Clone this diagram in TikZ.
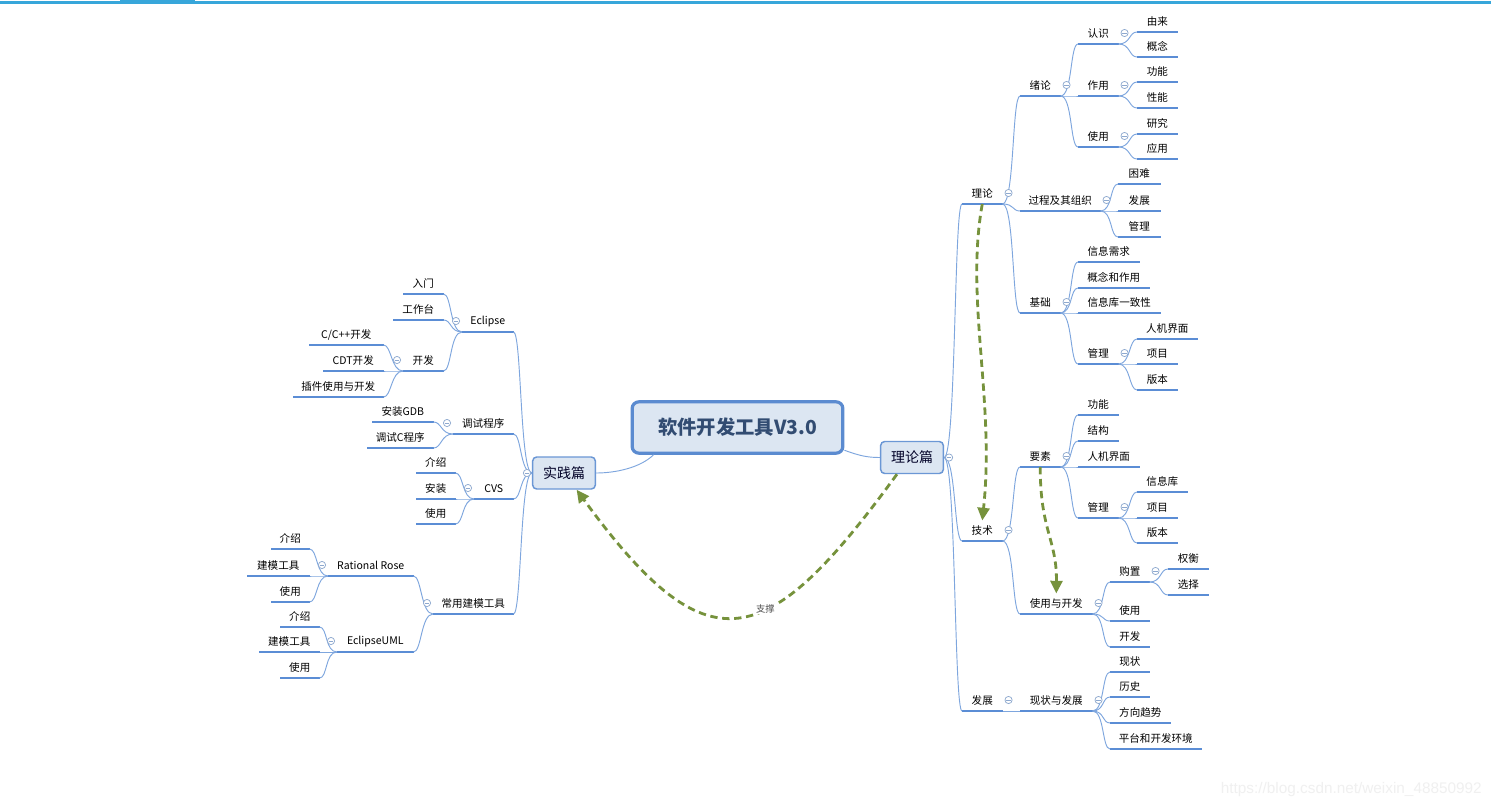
\documentclass[tikz,border=0pt]{standalone}
\usepackage{fontspec}
\setmainfont{Noto Sans CJK SC}
\newfontfamily\wmfont{Liberation Sans}
\usetikzlibrary{arrows.meta,calc}
\definecolor{ulc}{HTML}{5B8DD5}
\definecolor{cnc}{HTML}{7EA6DE}
\definecolor{ccc}{HTML}{8EA9CF}
\definecolor{relc}{HTML}{76923C}
\definecolor{boxf}{HTML}{DCE6F2}
\definecolor{boxd}{HTML}{5B8BD0}
\definecolor{topc}{HTML}{37A6DA}
\tikzset{
  tn/.style={anchor=south west, inner sep=0pt, minimum height=15pt,
    font=\fontsize{7.9}{9}\selectfont, text=black},
  uline/.style={ulc, line width=1.6pt},
  conn/.style={cnc, line width=0.7pt},
  ccirc/.style={ccc, line width=0.55pt, fill=white},
  rel/.style={relc, line width=2.1pt, dash pattern=on 5.5pt off 3.5pt,
    -{Triangle[length=9.5pt,width=9pt]}},
  rootbox/.style={draw=boxd, line width=2.4pt, fill=boxf, rounded corners=5pt,
    minimum width=158pt, minimum height=38.5pt, inner sep=0pt,
    font=\bfseries\fontsize{14.5}{16}\selectfont, text=boxd!55!black},
  mainbox/.style={draw=boxd!90, line width=1.1pt, fill=boxf, rounded corners=3pt,
    minimum width=47pt, minimum height=24pt, inner sep=0pt,
    font=\fontsize{10.5}{12}\selectfont, text=black!85!blue}
}
\newcommand\NN[5]{\node[tn,minimum width={(#3-#2)*0.75pt}] (#1) at (#2,#4) {#5};
  \draw[uline] (#1.south west) -- (#1.south east);}
\newcommand\RC[2]{\draw[conn] (#1.south east) .. controls +(12,0) and +(-8,0) .. (#2.south west);}
\newcommand\LC[2]{\draw[conn] (#1.south west) .. controls +(-12,0) and +(8,0) .. (#2.south east);}
\newcommand\CR[1]{\draw[ccirc] ($(#1.south east)+(6,-11)$) circle (2.7pt);
  \draw[ccc, line width=0.55pt] ($(#1.south east)+(3.6,-11)$) -- ++(4.8,0);}
\newcommand\CL[1]{\draw[ccirc] ($(#1.south west)+(-6,-11)$) circle (2.7pt);
  \draw[ccc, line width=0.55pt] ($(#1.south west)+(-8.4,-11)$) -- ++(4.8,0);}
\begin{document}
\begin{tikzpicture}[x=0.75pt,y=-0.75pt]
\useasboundingbox (0,0) rectangle (1491,807);
\fill[white] (0,0) rectangle (1491,807);
% top bar
\fill[topc] (0,1) rectangle (1491,4);
\fill[topc] (120,0) rectangle (195,4);

% central boxes
\node[rootbox] (root) at (737.5,427.5) {软件开发工具V3.0};
\node[mainbox] (ll) at (912,457.5) {理论篇};
\node[mainbox] (sj) at (564,473) {实践篇};
\draw[conn] (root.-12) .. controls (860,456) and (868,457.5) .. (ll.west);
\draw[conn] (root.198) .. controls (640,468) and (615,473) .. (sj.east);

% right tree nodes
\NN{a}{962}{1002}{204}{理论}
\NN{a1}{1020}{1060}{96}{绪论}
\NN{a11}{1078}{1118}{44}{认识}
\NN{a111}{1137}{1177}{32}{由来}
\NN{a112}{1137}{1177}{57}{概念}
\NN{a12}{1078}{1118}{96}{作用}
\NN{a121}{1137}{1177}{82}{功能}
\NN{a122}{1137}{1177}{108}{性能}
\NN{a13}{1078}{1118}{147}{使用}
\NN{a131}{1137}{1177}{134}{研究}
\NN{a132}{1137}{1177}{159}{应用}
\NN{a2}{1020}{1100}{211}{过程及其组织}
\NN{a21}{1118}{1160}{184}{困难}
\NN{a22}{1118}{1160}{211}{发展}
\NN{a23}{1118}{1160}{237}{管理}
\NN{a3}{1020}{1060}{313}{基础}
\NN{a31}{1078}{1139}{262}{信息需求}
\NN{a32}{1078}{1149}{288}{概念和作用}
\NN{a33}{1078}{1160}{313}{信息库一致性}
\NN{a34}{1078}{1118}{364}{管理}
\NN{a341}{1137}{1197}{339}{人机界面}
\NN{a342}{1137}{1177}{364}{项目}
\NN{a343}{1137}{1177}{390}{版本}
\NN{b}{962}{1002}{541}{技术}
\NN{b1}{1020}{1060}{467}{要素}
\NN{b11}{1078}{1118}{415}{功能}
\NN{b12}{1078}{1118}{441}{结构}
\NN{b13}{1078}{1139}{467}{人机界面}
\NN{b14}{1078}{1118}{518}{管理}
\NN{b141}{1137}{1187}{492}{信息库}
\NN{b142}{1137}{1177}{518}{项目}
\NN{b143}{1137}{1177}{543}{版本}
\NN{b2}{1020}{1092}{614}{使用与开发}
\NN{b21}{1110}{1149}{582}{购置}
\NN{b211}{1168}{1208}{569}{权衡}
\NN{b212}{1168}{1208}{595}{选择}
\NN{b22}{1110}{1149}{621}{使用}
\NN{b23}{1110}{1149}{647}{开发}
\NN{c}{962}{1002}{711}{发展}
\NN{c1}{1020}{1092}{711}{现状与发展}
\NN{c11}{1110}{1149}{672}{现状}
\NN{c12}{1110}{1149}{697}{历史}
\NN{c13}{1110}{1170}{723}{方向趋势}
\NN{c14}{1110}{1201}{749}{平台和开发环境}

% left tree nodes
\NN{p}{462}{513}{332}{Eclipse}
\NN{p1}{403}{443}{294}{入门}
\NN{p2}{393}{443}{320}{工作台}
\NN{p3}{403}{443}{371}{开发}
\NN{p31}{309}{383}{345}{C/C++开发}
\NN{p32}{323}{383}{371}{CDT开发}
\NN{p33}{293}{383}{397}{插件使用与开发}
\NN{q}{453}{513}{434}{调试程序}
\NN{q1}{372}{433}{422}{安装GDB}
\NN{q2}{367}{433}{448}{调试C程序}
\NN{r}{474}{513}{499}{CVS}
\NN{r1}{416}{455}{473}{介绍}
\NN{r2}{416}{455}{499}{安装}
\NN{r3}{416}{455}{524}{使用}
\NN{s}{433}{513}{614}{常用建模工具}
\NN{s1}{328}{413}{576}{Rational Rose}
\NN{s11}{271}{309}{549}{介绍}
\NN{s12}{247}{309}{576}{建模工具}
\NN{s13}{271}{309}{602}{使用}
\NN{s2}{337}{413}{652}{EclipseUML}
\NN{s21}{280}{319}{627}{介绍}
\NN{s22}{259}{319}{652}{建模工具}
\NN{s23}{280}{319}{678}{使用}

% right connectors
\foreach \c in {a,b,c}
  \draw[conn] (ll.east) .. controls +(12,0) and +(-8,0) .. (\c.south west);
\foreach \p/\c in {a/a1,a/a2,a/a3,a1/a11,a1/a12,a1/a13,a11/a111,a11/a112,
  a12/a121,a12/a122,a13/a131,a13/a132,a2/a21,a2/a22,a2/a23,
  a3/a31,a3/a32,a3/a33,a3/a34,a34/a341,a34/a342,a34/a343,
  b/b1,b/b2,b1/b11,b1/b12,b1/b13,b1/b14,b14/b141,b14/b142,b14/b143,
  b2/b21,b2/b22,b2/b23,b21/b211,b21/b212,c/c1,c1/c11,c1/c12,c1/c13,c1/c14}
  {\RC{\p}{\c}}

% left connectors
\foreach \c in {p,q,r,s}
  \draw[conn] (sj.west) .. controls +(-12,0) and +(8,0) .. (\c.south east);
\foreach \p/\c in {p/p1,p/p2,p/p3,p3/p31,p3/p32,p3/p33,q/q1,q/q2,
  r/r1,r/r2,r/r3,s/s1,s/s2,s1/s11,s1/s12,s1/s13,s2/s21,s2/s22,s2/s23}
  {\LC{\p}{\c}}

% collapse circles
\foreach \n in {a,a1,a11,a12,a13,a2,a3,a34,b,b1,b14,b2,b21,c,c1} {\CR{\n}}
\foreach \n in {p,p3,q,r,s,s1,s2} {\CL{\n}}
\draw[ccirc] ($(ll.east)+(5,0)$) circle (2.7pt);
\draw[ccc, line width=0.55pt] ($(ll.east)+(2.6,0)$) -- ++(4.8,0);
\draw[ccirc] ($(sj.west)+(-5,0)$) circle (2.7pt);
\draw[ccc, line width=0.55pt] ($(sj.west)+(-7.4,0)$) -- ++(4.8,0);

% relationships
\draw[rel] (ll.228) .. controls (766,654) and (708,670) .. (sj.-53)
  node[pos=0.4, fill=white, inner sep=0.6pt, text=black!70,
       font=\fontsize{7}{8}\selectfont] (lab) {支撑};
\draw[rel] (a.south) .. controls (965,300) and (995,400) .. (b.north);
\draw[rel] (b1.south) .. controls (1040,530) and (1057,540) .. (b2.north);

% watermark
\node[anchor=east, inner sep=0pt, font=\wmfont\fontsize{11.5}{13}\selectfont, text=black!6]
  (wm) at (1482,790) {https://blog.csdn.net/weixin\_48850992};
\end{tikzpicture}
\end{document}
